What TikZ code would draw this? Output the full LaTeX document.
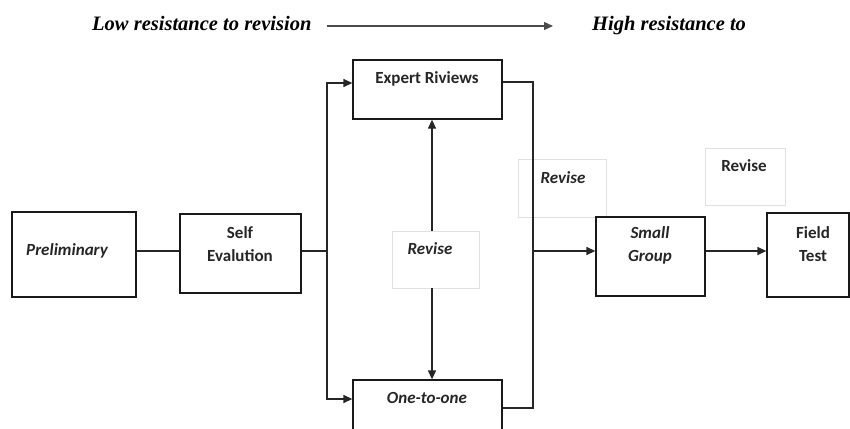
\documentclass[tikz,border=0pt]{standalone}
\usepackage{fontspec}
\setmainfont{Liberation Serif}
\newfontfamily\boxfont{Carlito}
\usetikzlibrary{arrows.meta}
\begin{document}
\begin{tikzpicture}[x=1pt,y=-1pt,
  box/.style={draw=black!90,line width=1.3pt,inner sep=0pt},
  revbox/.style={draw=black!12,line width=0.8pt,inner sep=0pt},
  btxt/.style={font=\boxfont\bfseries\fontsize{17}{23}\selectfont,align=center,inner sep=0pt,text=black!85},
  itxt/.style={font=\boxfont\bfseries\itshape\fontsize{17}{23}\selectfont,align=center,inner sep=0pt,text=black!85},
  toptxt/.style={font=\bfseries\itshape\fontsize{20.5}{22}\selectfont,inner sep=0pt,anchor=base west},
  conn/.style={line width=1.3pt,draw=black!85},
  arr/.style={conn,-{Triangle[length=9pt,width=8pt]}}]
\useasboundingbox (0,0) rectangle (850,428);
\begin{scope}
\clip (0,0) rectangle (850,428);
% top line
\node[toptxt] (low) at (92,31) {Low resistance to revision};
\node[toptxt] (high) at (592,31) {High resistance to};
\draw[arr,draw=black!70,shorten <=15pt,shorten >=39pt] (low.east |- 0,26) -- (high.west |- 0,26);
% boxes
\node[box,minimum width=124pt,minimum height=85pt] (pre) at (74,254.5) {};
\node[itxt] (pret) at (67,251) {Preliminary};
\node[box,minimum width=121pt,minimum height=79pt] (self) at (240.5,253.5) {};
\node[btxt] (selft) at (240,244) {Self\\Evalution};
\node[box,minimum width=149pt,minimum height=59pt] (exp) at (427.5,89.5) {};
\node[btxt] (expt) at (427,79) {Expert Riviews};
\node[box,minimum width=149pt,minimum height=60pt] (one) at (427.5,410) {};
\node[itxt] (onet) at (427,398) {One-to-one};
\node[revbox,minimum width=87pt,minimum height=57pt] (rev1) at (435.5,259.5) {};
\node[itxt] (rev1t) at (430,249) {Revise};
\node[revbox,minimum width=88pt,minimum height=58pt] (rev2) at (562,188) {};
\node[itxt] (rev2t) at (563,178) {Revise};
\node[revbox,minimum width=80pt,minimum height=57pt] (rev3) at (745,176.5) {};
\node[btxt] (rev3t) at (744,166) {Revise};
\node[box,minimum width=109pt,minimum height=79pt] (small) at (650.5,256.5) {};
\node[itxt] (smallt) at (650,245.5) {Small\\Group};
\node[box,minimum width=82pt,minimum height=84pt] (field) at (808,255) {};
\node[btxt] (fieldt) at (813,244.5) {Field\\Test};
% junction coordinates
\coordinate (jl) at (327,251);
\coordinate (jr) at (533,251);
% connectors
\draw[conn] (pre.east |- 0,251) -- (self.west |- 0,251);
\draw[conn] (self.east |- 0,251) -- (jl);
\draw[arr] (jl) |- (exp.west |- 0,83);
\draw[arr] (jl) |- (one.west |- 0,399);
\draw[conn] (exp.east |- 0,82) -| (jr) |- (one.east |- 0,408);
\draw[arr] (jr) -- (small.west |- jr);
\draw[arr] (small.east |- 0,251) -- (field.west |- 0,251);
\draw[arr] (rev1.north -| 432,0) -- (exp.south -| 432,0);
\draw[arr] (rev1.south -| 432,0) -- (one.north -| 432,0);
\end{scope}
\end{tikzpicture}
\end{document}
